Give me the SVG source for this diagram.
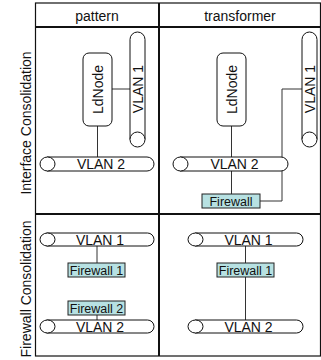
<svg xmlns="http://www.w3.org/2000/svg" width="321" height="360" viewBox="0 0 321 360">
<style>
text{font-family:"Liberation Sans",Arial,sans-serif;fill:#111}
.hdr{font-size:14px;text-anchor:middle}
.lbl{font-size:14px;text-anchor:middle}
.vl{font-size:14px;text-anchor:middle}
.fw{font-size:12.5px;text-anchor:middle}
.pill{fill:#fff;stroke:#111;stroke-width:1}
.node{fill:#fff;stroke:#111;stroke-width:1}
.fwbox{fill:#b7e1e2;stroke:#222;stroke-width:1}
.grid{fill:none;stroke:#111;stroke-width:1.2}
.div{fill:none;stroke:#111;stroke-width:2}
.conn{fill:none;stroke:#333;stroke-width:1}
</style>
<g id="table">
<rect class="grid" x="35.5" y="3" width="285" height="353"/>
<path class="div" d="M35 27 H321 M159 3 V356 M35 214 H321"/>
<text class="hdr" x="97" y="21">pattern</text>
<text class="hdr" x="240" y="21">transformer</text>
<text class="lbl" transform="translate(31,123) rotate(-90)">Interface Consolidation</text>
<text class="lbl" transform="translate(31,289) rotate(-90)">Firewall Consolidation</text>
</g>
<g id="connectors">
<path class="conn" d="M112 89 H130 M97.5 126 V157"/>
<path class="conn" d="M302 89 H282 V201 H260 M231.5 126 V194"/>
<path class="conn" d="M97 246 V263 M97 315 V320"/>
<path class="conn" d="M245.5 246 V320"/>
</g>
<g id="p-ldnode">
<rect class="node" x="83" y="53" width="29" height="73" rx="6"/>
<text class="vl" transform="translate(102.5,89.5) rotate(-90)">LdNode</text>
</g>
<g id="p-vlan1">
<path class="pill" d="M130 139.5 V39.5 A7.5 7.5 0 0 1 145 39.5 V139.5"/>
<ellipse class="pill" cx="137.5" cy="139.5" rx="7.5" ry="7.5"/>
<text class="vl" transform="translate(142.5,89) rotate(-90)">VLAN 1</text>
</g>
<g id="p-vlan2">
<path class="pill" d="M47 157 H147 A7 7 0 0 1 147 171 H47 Z"/>
<ellipse class="pill" cx="47.5" cy="164" rx="7.5" ry="7"/>
<text class="vl" x="101" y="169">VLAN 2</text>
</g>
<g id="t-ldnode">
<rect class="node" x="217" y="53" width="29" height="73" rx="6"/>
<text class="vl" transform="translate(236.5,89.5) rotate(-90)">LdNode</text>
</g>
<g id="t-vlan1">
<path class="pill" d="M302 139.5 V39.5 A7.5 7.5 0 0 1 317 39.5 V139.5"/>
<ellipse class="pill" cx="309.5" cy="139.5" rx="7.5" ry="7.5"/>
<text class="vl" transform="translate(314.5,89) rotate(-90)">VLAN 1</text>
</g>
<g id="t-vlan2">
<path class="pill" d="M180 157 H281 A7 7 0 0 1 281 171 H180 Z"/>
<ellipse class="pill" cx="180.5" cy="164" rx="7.5" ry="7"/>
<text class="vl" x="234.5" y="169">VLAN 2</text>
</g>
<g id="t-firewall">
<rect class="fwbox" x="202" y="194" width="58" height="14"/>
<text class="fw" x="231" y="205.5">Firewall</text>
</g>
<g id="pf-vlan1">
<path class="pill" d="M46.5 233 H147.5 A6.5 6.5 0 0 1 147.5 246 H46.5 Z"/>
<ellipse class="pill" cx="47.5" cy="239.5" rx="7.5" ry="6.5"/>
<text class="vl" x="100" y="244.5">VLAN 1</text>
</g>
<g id="pf-firewall1">
<rect class="fwbox" x="68" y="263" width="57" height="14"/>
<text class="fw" x="96.5" y="274.5">Firewall 1</text>
</g>
<g id="pf-firewall2">
<rect class="fwbox" x="68" y="301" width="57" height="14"/>
<text class="fw" x="96.5" y="312.5">Firewall 2</text>
</g>
<g id="pf-vlan2">
<path class="pill" d="M46.5 320 H147.5 A6.5 6.5 0 0 1 147.5 333 H46.5 Z"/>
<ellipse class="pill" cx="47.5" cy="326.5" rx="7.5" ry="6.5"/>
<text class="vl" x="100" y="331.5">VLAN 2</text>
</g>
<g id="tf-vlan1">
<path class="pill" d="M195 233 H296.5 A6.5 6.5 0 0 1 296.5 246 H195 Z"/>
<ellipse class="pill" cx="195.5" cy="239.5" rx="7.5" ry="6.5"/>
<text class="vl" x="248.5" y="244.5">VLAN 1</text>
</g>
<g id="tf-firewall1">
<rect class="fwbox" x="217" y="263" width="57" height="14"/>
<text class="fw" x="245.5" y="274.5">Firewall 1</text>
</g>
<g id="tf-vlan2">
<path class="pill" d="M195 320 H296.5 A6.5 6.5 0 0 1 296.5 333 H195 Z"/>
<ellipse class="pill" cx="195.5" cy="326.5" rx="7.5" ry="6.5"/>
<text class="vl" x="248.5" y="331.5">VLAN 2</text>
</g>
</svg>
